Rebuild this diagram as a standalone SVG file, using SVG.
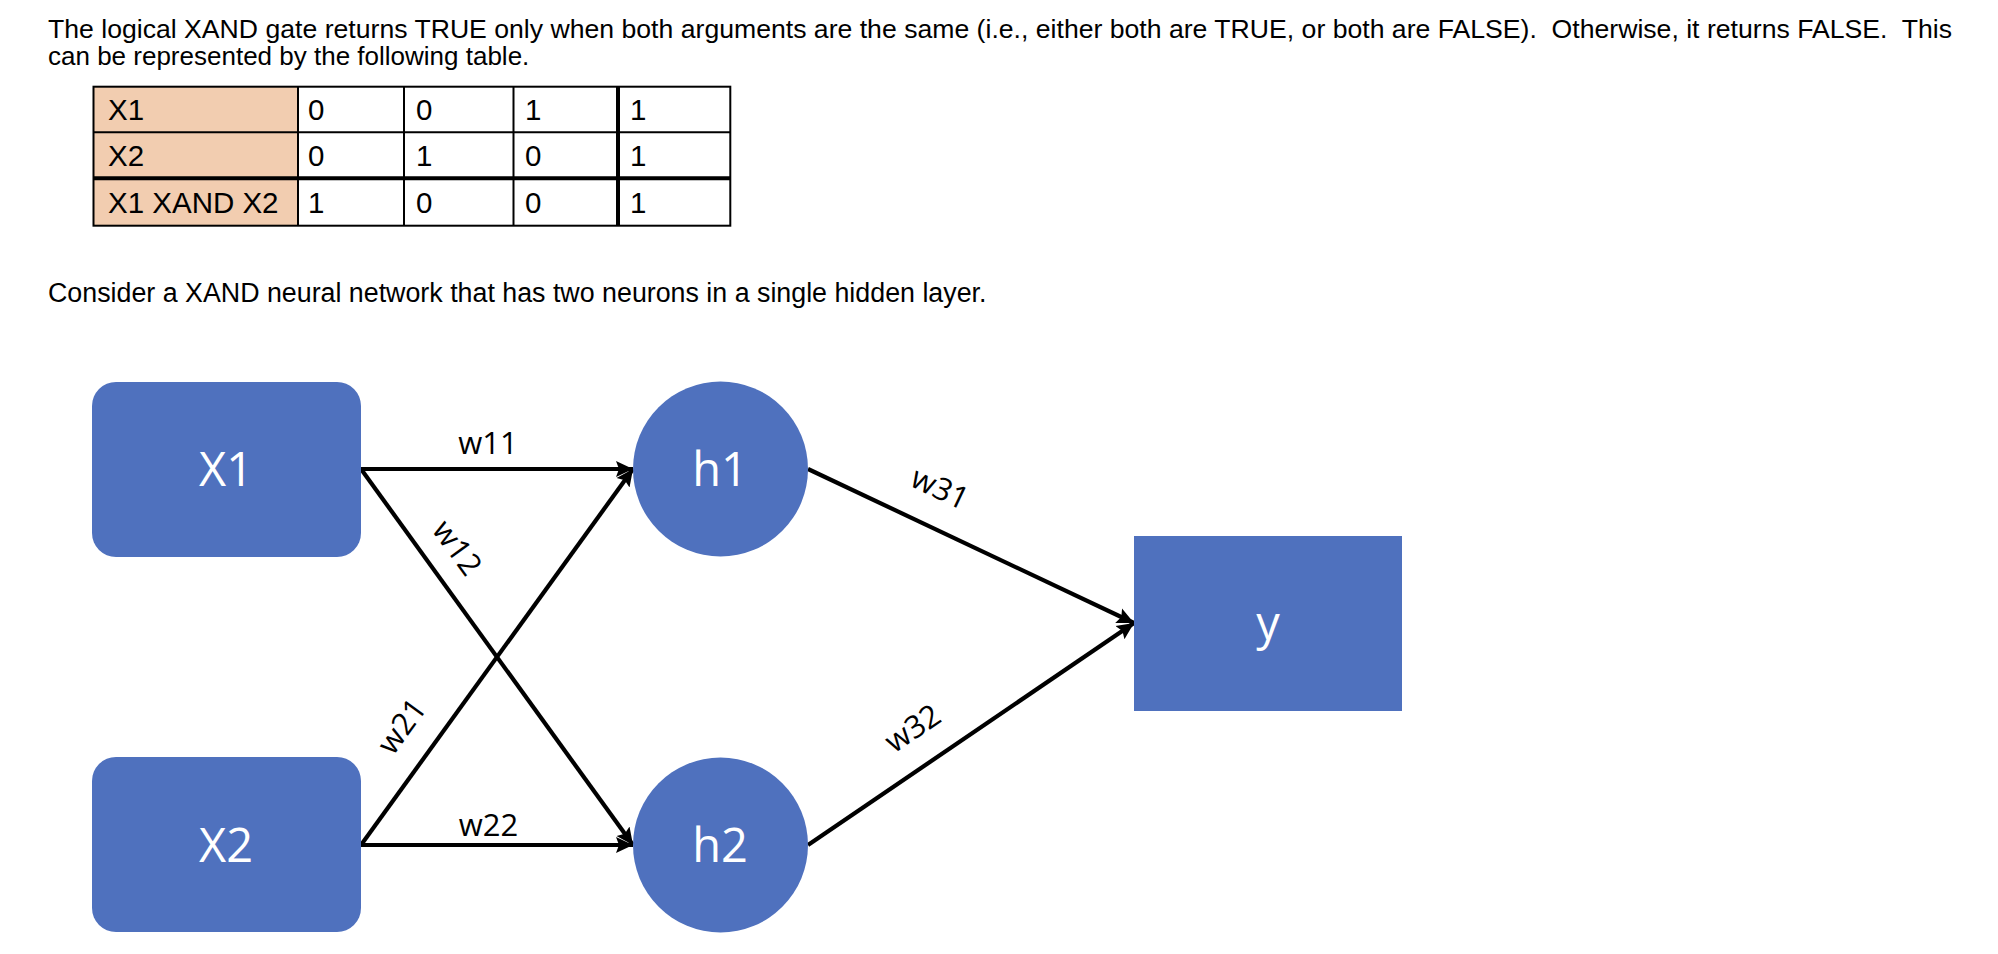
<svg xmlns="http://www.w3.org/2000/svg" width="1998" height="954" viewBox="0 0 1998 954">
<style>
.body{font-family:"Liberation Sans",Arial,sans-serif;font-size:26px;fill:#000;white-space:pre}
.cell{font-family:"Liberation Sans",Arial,sans-serif;font-size:29.5px;fill:#000}
.node{fill:#4F71BE}
.nlabel{font-family:"Open Sans","Noto Sans",sans-serif;font-size:47px;fill:#fff;text-anchor:middle}
.wlabel{font-family:"Open Sans","Noto Sans",sans-serif;font-size:31px;fill:#000;text-anchor:middle}
.conn{stroke:#000;stroke-width:4.2;fill:none;marker-end:url(#arrow)}
.thin{stroke:#000;stroke-width:2}
.thick{stroke:#000;stroke-width:4}
</style>
<defs>
<marker id="arrow" markerUnits="userSpaceOnUse" markerWidth="18" markerHeight="18" refX="17" refY="8" orient="auto" viewBox="0 0 18 16">
<path d="M0,0 L17,8 L0,16 L3,8 z" fill="#000"/>
</marker>
</defs>
<rect width="1998" height="954" fill="#fff"/>

<g id="intro">
<text class="body" x="48" y="38" textLength="1904" lengthAdjust="spacingAndGlyphs">The logical XAND gate returns TRUE only when both arguments are the same (i.e., either both are TRUE, or both are FALSE).  Otherwise, it returns FALSE.  This</text>
<text class="body" x="48" y="65">can be represented by the following table.</text>
</g>

<g id="truth-table">
<rect x="93.5" y="86.7" width="204.5" height="139" fill="#F2CDB0"/>
<rect x="298" y="86.7" width="432.3" height="139" fill="#fff"/>
<rect x="93.5" y="86.7" width="636.8" height="139" fill="none" class="thin"/>
<line class="thin" x1="93.5" y1="132.3" x2="730.3" y2="132.3"/>
<line class="thick" x1="93.5" y1="178.3" x2="730.3" y2="178.3"/>
<line class="thin" x1="298" y1="86.7" x2="298" y2="225.7"/>
<line class="thin" x1="404" y1="86.7" x2="404" y2="225.7"/>
<line class="thin" x1="513.5" y1="86.7" x2="513.5" y2="225.7"/>
<line class="thick" x1="618" y1="86.7" x2="618" y2="225.7"/>
<text class="cell" x="108" y="120">X1</text>
<text class="cell" x="308" y="120">0</text>
<text class="cell" x="416" y="120">0</text>
<text class="cell" x="525" y="120">1</text>
<text class="cell" x="630" y="120">1</text>
<text class="cell" x="108" y="166">X2</text>
<text class="cell" x="308" y="166">0</text>
<text class="cell" x="416" y="166">1</text>
<text class="cell" x="525" y="166">0</text>
<text class="cell" x="630" y="166">1</text>
<text class="cell" x="108" y="213">X1 XAND X2</text>
<text class="cell" x="308" y="213">1</text>
<text class="cell" x="416" y="213">0</text>
<text class="cell" x="525" y="213">0</text>
<text class="cell" x="630" y="213">1</text>
</g>

<g id="caption">
<text class="body" x="48" y="302" style="font-size:26.8px">Consider a XAND neural network that has two neurons in a single hidden layer.</text>
</g>

<g id="connectors">
<line class="conn" x1="361" y1="469" x2="633" y2="469"/>
<line class="conn" x1="361" y1="469" x2="633" y2="845"/>
<line class="conn" x1="361" y1="845" x2="633" y2="469"/>
<line class="conn" x1="361" y1="845" x2="633" y2="845"/>
<line class="conn" x1="808" y1="469" x2="1134" y2="623"/>
<line class="conn" x1="808" y1="845" x2="1134" y2="623"/>
<text class="wlabel" x="488" y="454">w11</text>
<text class="wlabel" transform="translate(457.5,547.5) rotate(54)" x="0" y="11">w12</text>
<text class="wlabel" transform="translate(401.5,726) rotate(-54)" x="0" y="11">w21</text>
<text class="wlabel" x="488.5" y="836">w22</text>
<text class="wlabel" transform="translate(940,488) rotate(25.3)" x="0" y="11">w31</text>
<text class="wlabel" transform="translate(912.5,728) rotate(-34)" x="0" y="11">w32</text>
</g>

<g id="node-X1">
<rect class="node" x="92" y="382" width="269" height="175" rx="24"/>
<text class="nlabel" x="226" y="486">X1</text>
</g>
<g id="node-X2">
<rect class="node" x="92" y="757" width="269" height="175" rx="24"/>
<text class="nlabel" x="226" y="862">X2</text>
</g>
<g id="node-h1">
<circle class="node" cx="720.5" cy="469" r="87.5"/>
<text class="nlabel" x="720" y="486">h1</text>
</g>
<g id="node-h2">
<circle class="node" cx="720.5" cy="845" r="87.5"/>
<text class="nlabel" x="720" y="862">h2</text>
</g>
<g id="node-y">
<rect class="node" x="1134" y="536" width="268" height="175"/>
<text class="nlabel" x="1268" y="640">y</text>
</g>
</svg>
